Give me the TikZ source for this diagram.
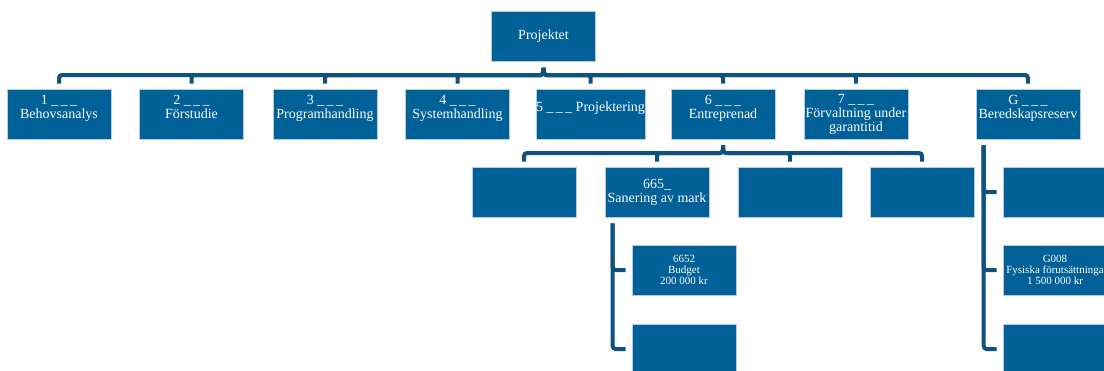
\documentclass[tikz,border=0pt]{standalone}
\usepackage{fontspec}
\setmainfont{Liberation Serif}
\definecolor{boxBlue}{RGB}{0,96,152}
\definecolor{lineBlue}{RGB}{14,82,128}
\definecolor{edgeBlue}{RGB}{180,205,228}
\newcommand{\unitFont}{\fontsize{14}{14}\selectfont}
\newcommand{\costFont}{\fontsize{11}{11}\selectfont}
\newcommand{\blanks}{\_\,\_\,\_}
\newcommand{\busY}{75}
\newcommand{\subBusY}{153}

\tikzset{
  unit/.style={rectangle, fill=boxBlue, draw=edgeBlue, line width=0.6pt,
    minimum width=104pt, minimum height=50pt, inner sep=0pt,
    text=white, align=center, font=\unitFont},
  cost/.style={unit, font=\costFont},
  link/.style={draw=lineBlue, line width=4pt, rounded corners=3pt,
    shorten <=6pt, shorten >=5pt},
}

\begin{document}
\begin{tikzpicture}[x=1pt, y=-1pt]
  \useasboundingbox (0,0) rectangle (1104,370);

  \node[unit] (proj) at (543.5,36.5) {Projektet};

  \node[unit] (behov) at (59,114)    {1 \blanks\\Behovsanalys\\ \mbox{}};
  \node[unit] (forst) at (191.5,114) {2 \blanks\\Förstudie\\ \mbox{}};
  \node[unit] (progr) at (325,114)   {3 \blanks\\Programhandling\\ \mbox{}};
  \node[unit] (syst)  at (457.5,114) {4 \blanks\\Systemhandling\\ \mbox{}};
  \node[unit] (pering) at (590.5,114) {5 \blanks\ Projektering\\ \mbox{}};
  \node[unit] (entr)  at (723,114)   {6 \blanks\\Entreprenad\\ \mbox{}};
  \node[unit] (forv)  at (856,114)   {7 \blanks\\Förvaltning under\\garantitid};
  \node[unit] (bered) at (1028,114)  {G \blanks\\Beredskapsreserv\\ \mbox{}};

  % under Entreprenad
  \node[unit] (entrA) at (524,192) {};
  \node[unit] (saner) at (657,192) {665\_\\Sanering av mark};
  \node[unit] (entrC) at (790,192) {};
  \node[unit] (entrD) at (922,192) {};

  \node[cost] (budg)   at (684,270) {6652\\Budget\\200 000 kr};
  \node[unit] (sanerB) at (684,349) {};

  % under Beredskapsreserv
  \node[unit] (beredA) at (1055,192) {};
  \node[cost] (fysik)  at (1055,270) {G008\\Fysiska förutsättninga\\1 500 000 kr};
  \node[unit] (beredC) at (1055,349) {};

  \coordinate (bus) at (0,\busY);
  \coordinate (subBus) at (0,\subBusY);

  \foreach \n in {behov,forst,progr,syst,pering,entr,forv,bered}
    \draw[link] (proj.south) -- (proj.south |- bus) -| (\n.north);

  \foreach \n in {entrA,saner,entrC,entrD}
    \draw[link] (entr.south) -- (entr.south |- subBus) -| (\n.north);

  \foreach \n in {budg,sanerB}
    \draw[link, shorten >=6pt] ([xshift=8pt]saner.south west) |- (\n.west);

  \foreach \n in {beredA,fysik,beredC}
    \draw[link, shorten >=6pt] ([xshift=8pt]bered.south west) |- (\n.west);
\end{tikzpicture}
\end{document}
